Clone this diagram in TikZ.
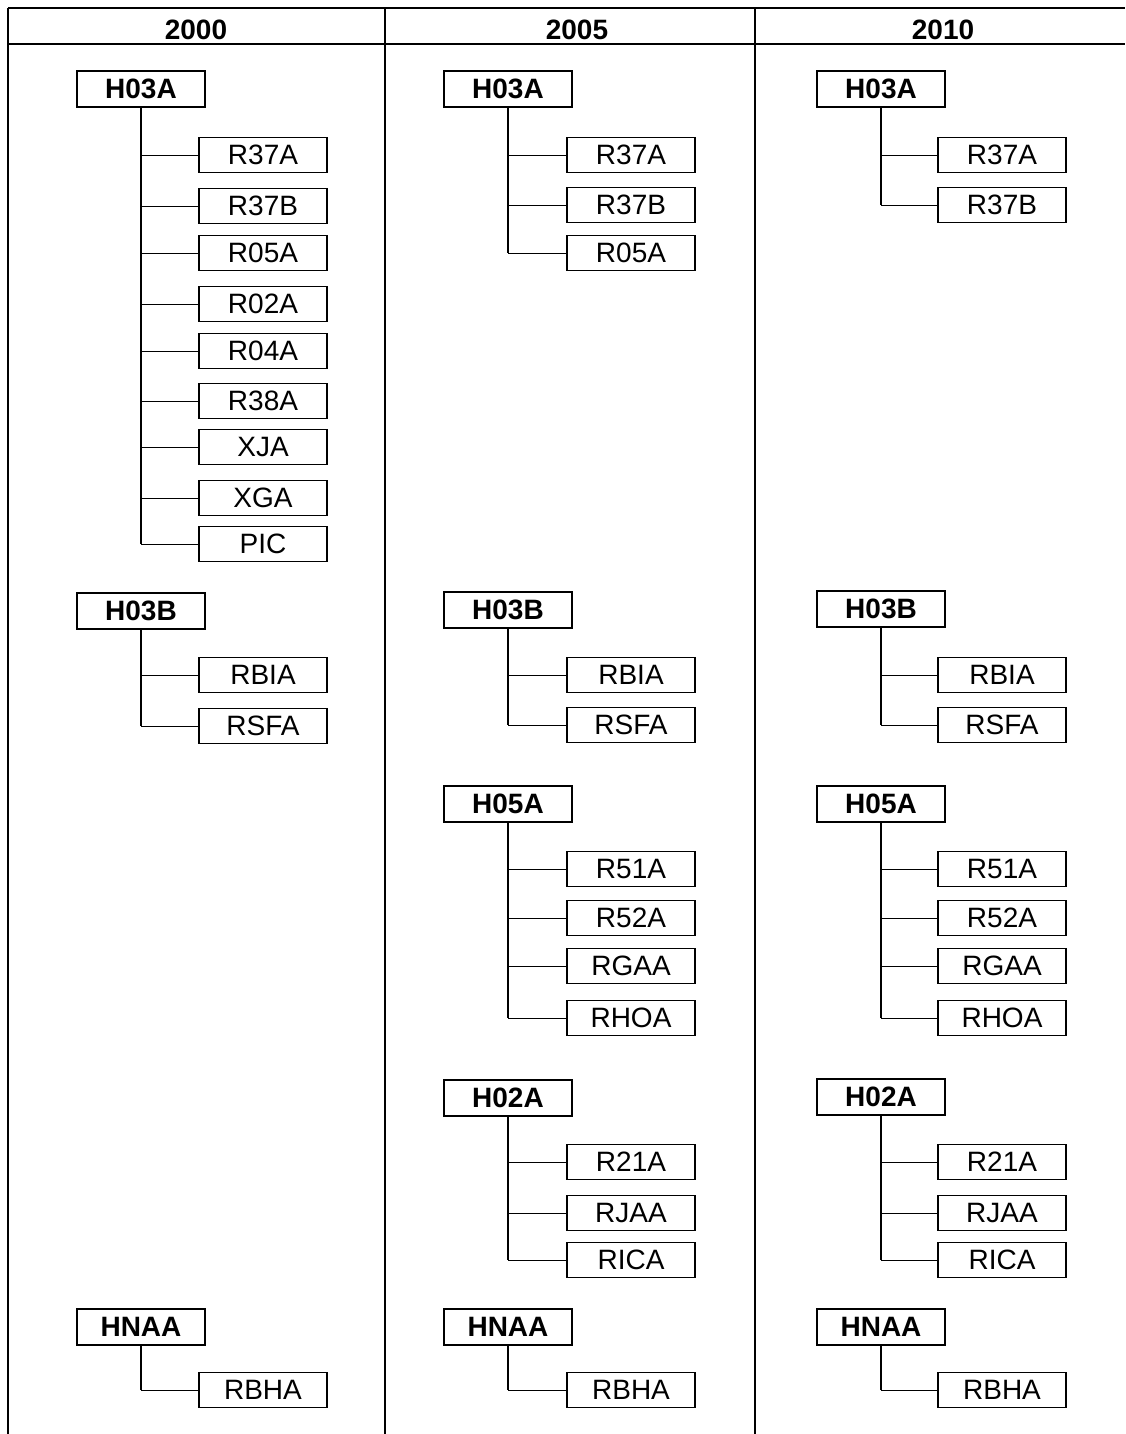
\documentclass[tikz,border=0pt]{standalone}
\usepackage{fontspec}
\setmainfont{Liberation Sans}
\begin{document}
\begin{tikzpicture}[x=1pt,y=-1pt,
  mainbox/.style={draw=black,line width=2.2pt,minimum width=128pt,minimum height=36pt,inner sep=0pt,font=\fontsize{28}{30}\selectfont\bfseries},
  childbox/.style={draw=black,line width=1.6pt,minimum width=128pt,minimum height=35pt,inner sep=0pt,font=\fontsize{28}{30}\selectfont},
  headtext/.style={inner sep=0pt,font=\fontsize{28}{30}\selectfont\bfseries},
  frameline/.style={line width=2.8pt},
  headline/.style={line width=1.6pt},
  trunk/.style={line width=1.6pt},
  branch/.style={line width=0.8pt}]
\useasboundingbox (0,0) rectangle (1125,1434);
% frame
\coordinate (tl) at (8,8);
\coordinate (tr) at (1125,8);
\coordinate (hl) at (8,44);
\coordinate (hr) at (1125,44);
\coordinate (bl) at (8,1434);
\coordinate (d1t) at (385,8);
\coordinate (d1b) at (385,1434);
\coordinate (d2t) at (755,8);
\coordinate (d2b) at (755,1434);
\draw[frameline] (tl) -- (tr);
\draw[headline] (hl) -- (hr);
\draw[frameline] (tl) -- (bl);
\draw[frameline] (d1t) -- (d1b);
\draw[frameline] (d2t) -- (d2b);
\node[headtext] (h1) at (196,30) {2000};
\node[headtext] (h2) at (577,30) {2005};
\node[headtext] (h3) at (943,30) {2010};
% group macro: name, parent x, parent y, label, child x, list y/label
\newcommand\treegrp[6]{%
  \node[mainbox] (#1) at (#2,#3) {#4};
  \foreach \yy/\lab [count=\i] in {#6} {%
    \node[childbox] (#1-\i) at (#5,\yy) {\lab};
    \draw[trunk] (#1.south) -- (#1.south |- #1-\i.west);
    \draw[branch] (#1.south |- #1-\i.west) -- (#1-\i.west);
  }%
}
% column 2000
\treegrp{a1}{141}{89}{H03A}{263}{155/R37A,206/R37B,253/R05A,304/R02A,351/R04A,401/R38A,447/XJA,498/XGA,544/PIC}
\treegrp{a2}{141}{611}{H03B}{263}{675/RBIA,726/RSFA}
\treegrp{a3}{141}{1327}{HNAA}{263}{1390/RBHA}
% column 2005
\treegrp{b1}{508}{89}{H03A}{631}{155/R37A,205/R37B,253/R05A}
\treegrp{b2}{508}{610}{H03B}{631}{675/RBIA,725/RSFA}
\treegrp{b3}{508}{804}{H05A}{631}{869/R51A,918/R52A,966/RGAA,1018/RHOA}
\treegrp{b4}{508}{1098}{H02A}{631}{1162/R21A,1213/RJAA,1260/RICA}
\treegrp{b5}{508}{1327}{HNAA}{631}{1390/RBHA}
% column 2010
\treegrp{c1}{881}{89}{H03A}{1002}{155/R37A,205/R37B}
\treegrp{c2}{881}{609}{H03B}{1002}{675/RBIA,725/RSFA}
\treegrp{c3}{881}{804}{H05A}{1002}{869/R51A,918/R52A,966/RGAA,1018/RHOA}
\treegrp{c4}{881}{1097}{H02A}{1002}{1162/R21A,1213/RJAA,1260/RICA}
\treegrp{c5}{881}{1327}{HNAA}{1002}{1390/RBHA}
\end{tikzpicture}
\end{document}
